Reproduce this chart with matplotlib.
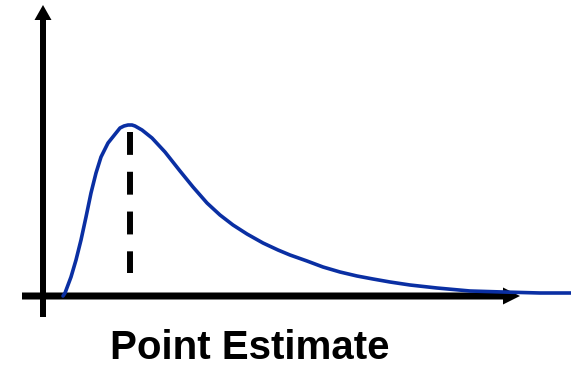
import matplotlib
matplotlib.use("Agg")
import matplotlib.pyplot as plt

# curve: x position, height above the x axis
curve_x = [63, 65, 71, 76, 81, 86, 91, 96, 101, 108, 116, 120, 124, 128, 132, 135, 142,
           152, 165, 180, 193, 207, 220, 233, 247, 263, 278, 290, 307, 323, 340, 357,
           373, 390, 410, 437, 470, 503, 540, 571]
curve_y = [0, 3, 19, 36, 56, 79, 103, 123, 139, 153, 163, 168, 170, 171, 171, 170, 166,
           158, 144, 125, 109, 93, 81, 71, 62, 53, 46, 41, 35, 29, 24, 20,
           17, 14, 11, 8, 5, 4, 3, 3]

# point estimate (mode) marker
mode_x = 130
mode_top = 164
mode_bottom = 23

label = "Point Estimate"

fig = plt.figure(figsize=(5.71, 3.66), dpi=100)
ax = fig.add_axes([0, 0, 1, 1])
ax.set_xlim(0, 571)
ax.set_ylim(-70, 296)
ax.axis("off")

# axes as thick arrows
ax.arrow(43, -21, 0, 312, width=6, head_width=17, head_length=15,
         length_includes_head=True, fc="black", ec="none", zorder=2)
ax.arrow(22, 0, 498, 0, width=7, head_width=17, head_length=17,
         length_includes_head=True, fc="black", ec="none", zorder=2)

ax.plot(curve_x, curve_y, color="#0a2fa3", lw=2.6, solid_joinstyle="round",
        solid_capstyle="round", zorder=3)

# dashed line at the peak, drawn top to bottom
ax.plot([mode_x, mode_x], [mode_top, mode_bottom], color="black", lw=4.3,
        linestyle=(0, (3.83, 2.83)), dash_capstyle="butt", zorder=3)

ax.text(250, -63, label, ha="center", va="baseline", fontsize=29,
        fontweight="bold", family="Liberation Sans")

fig.savefig("out.png", dpi=100)
